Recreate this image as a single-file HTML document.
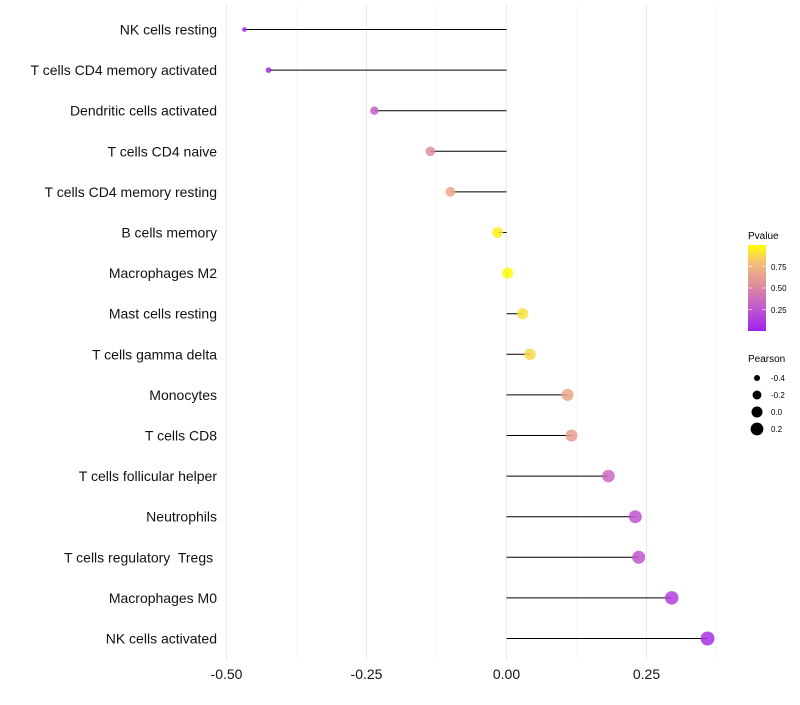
<!DOCTYPE html>
<html><head><meta charset="utf-8"><style>
body{margin:0;background:#fff;font-family:"Liberation Sans",sans-serif}
text{white-space:pre}
</style></head><body>
<svg id="chart" width="800" height="700" xmlns="http://www.w3.org/2000/svg">
<defs><linearGradient id="pg" x1="0" y1="1" x2="0" y2="0">
<stop offset="0" stop-color="#a020f0"/><stop offset="0.3" stop-color="#c460c8"/><stop offset="0.55" stop-color="#e0909a"/><stop offset="0.8" stop-color="#f4c078"/><stop offset="1" stop-color="#ffff00"/></linearGradient></defs>
<g id="grid"></g><g id="marks"></g><g id="labels"></g>
<g>
<text x="748" y="239" font-size="10">Pvalue</text>
<rect x="748" y="245" width="18" height="86" fill="url(#pg)"/>
<g stroke="#fff" stroke-opacity="0.6"><line x1="748" y1="266.5" x2="752" y2="266.5"/><line x1="762" y1="266.5" x2="766" y2="266.5"/><line x1="748" y1="288" x2="752" y2="288"/><line x1="762" y1="288" x2="766" y2="288"/><line x1="748" y1="309.5" x2="752" y2="309.5"/><line x1="762" y1="309.5" x2="766" y2="309.5"/></g>
<g font-size="8"><text x="771" y="270">0.75</text><text x="771" y="291">0.50</text><text x="771" y="313">0.25</text></g>
<text x="748" y="362" font-size="10">Pearson</text>
<g id="sizeleg"></g>
</g>
</svg>
<script>
const categories=["NK cells resting","T cells CD4 memory activated","Dendritic cells activated","T cells CD4 naive","T cells CD4 memory resting","B cells memory","Macrophages M2","Mast cells resting","T cells gamma delta","Monocytes","T cells CD8","T cells follicular helper","Neutrophils","T cells regulatory  Tregs ","Macrophages M0","NK cells activated"];
const pearson=[-0.468,-0.425,-0.236,-0.136,-0.1,-0.016,0.002,0.029,0.042,0.109,0.116,0.182,0.23,0.236,0.295,0.359];
const pvalue=[0.03,0.05,0.3,0.55,0.68,0.95,0.99,0.9,0.88,0.66,0.62,0.35,0.25,0.25,0.15,0.08];
const xTicks=[-0.5,-0.25,0,0.25];
const xTickLabels=["-0.50","-0.25","0.00","0.25"];
const sizeLegend=[-0.4,-0.2,0.0,0.2];
const NS="http://www.w3.org/2000/svg";
const x=v=>506.5+v*560;
const y=i=>29.5+i*40.6;
const r=v=>Math.sqrt(4+(v+0.5)*(49-4)/0.86);
function col(p){const st=[[0,[160,32,240]],[0.3,[196,96,200]],[0.55,[224,144,154]],[0.8,[244,192,120]],[1,[255,255,0]]];
for(let k=1;k<st.length;k++){if(p<=st[k][0]){const a=st[k-1],b=st[k],t=(p-a[0])/(b[0]-a[0]);return "rgb("+a[1].map((c,j)=>Math.round(c+(b[1][j]-c)*t)).join(",")+")";}}return "rgb(255,255,0)";}
function mk(t,a,p){const e=document.createElementNS(NS,t);for(const k in a)e.setAttribute(k,a[k]);p.appendChild(e);return e;}
const grid=document.getElementById("grid"),marks=document.getElementById("marks"),labels=document.getElementById("labels");
for(let k=0;k<xTicks.length;k++){
const gl=mk("line",{x1:x(xTicks[k]),x2:x(xTicks[k]),y1:5,y2:660,stroke:"#ebebeb","stroke-width":1},grid);


if(k<xTicks.length-1){const m=(xTicks[k]+xTicks[k+1])/2;
const ml=mk("line",{x1:x(m),x2:x(m),y1:5,y2:660,stroke:"#f7f7f7","stroke-width":1},grid);

}
const tl=mk("text",{x:x(xTicks[k]),y:679,"font-size":14,"text-anchor":"middle",fill:"#111"},labels);tl.textContent=xTickLabels[k];

}
{const m=xTicks[xTicks.length-1]+0.125;const ml=mk("line",{x1:x(m),x2:x(m),y1:5,y2:660,stroke:"#f7f7f7"},grid);

}
categories.forEach((c,i)=>{
const t=mk("text",{x:217,y:y(i)+5,"font-size":14,"text-anchor":"end",fill:"#111"},labels);t.textContent=c;


const s=mk("line",{x1:x(0),x2:x(pearson[i]),y1:y(i),y2:y(i),stroke:"#000","stroke-width":1},marks);


const d=mk("circle",{cx:x(pearson[i]),cy:y(i),r:r(pearson[i]),fill:col(pvalue[i]),"fill-opacity":0.85},marks);


});
const sl=document.getElementById("sizeleg");
sizeLegend.forEach((v,k)=>{const cy=378+k*17;
const c=mk("circle",{cx:757,cy:cy,r:r(v),fill:"#000"},sl);


const t=mk("text",{x:771,y:cy+3,"font-size":8},sl);t.textContent=v.toFixed(1);

});
</script>
</body></html>
